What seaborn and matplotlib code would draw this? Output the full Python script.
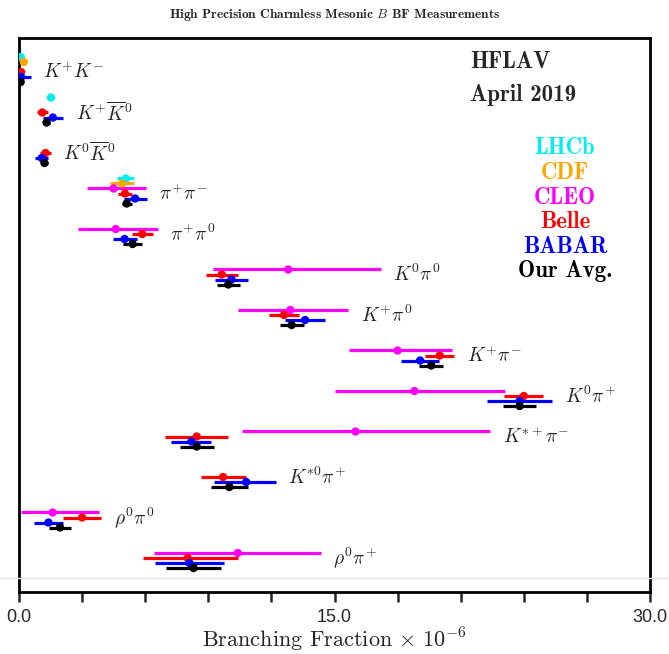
import matplotlib
matplotlib.use('Agg')
import matplotlib.pyplot as plt
import seaborn as sns
import numpy as np
import pandas as pd

# decays, top to bottom
decays = [r'$K^{+}K^{-}$', r'$K^{+}\overline{K}^{0}$', r'$K^{0}\overline{K}^{0}$',
          r'$\pi^{+}\pi^{-}$', r'$\pi^{+}\pi^{0}$', r'$K^{0}\pi^{0}$', r'$K^{+}\pi^{0}$',
          r'$K^{+}\pi^{-}$', r'$K^{0}\pi^{+}$', r'$K^{*+}\pi^{-}$', r'$K^{*0}\pi^{+}$',
          r'$\rho^{0}\pi^{0}$', r'$\rho^{0}\pi^{+}$']

nan = np.nan
# branching fractions (x 10^-6) and asymmetric errors, one entry per decay
lhcb_val = [0.08, 1.52, nan, 5.08, nan, nan, nan, nan, nan, nan, nan, nan, nan]
lhcb_lo = [0.02, 0.12, nan, 0.40, nan, nan, nan, nan, nan, nan, nan, nan, nan]
lhcb_hi = [0.02, 0.12, nan, 0.40, nan, nan, nan, nan, nan, nan, nan, nan, nan]

cdf_val = [0.23, nan, nan, 4.90, nan, nan, nan, nan, nan, nan, nan, nan, nan]
cdf_lo = [0.10, nan, nan, 0.55, nan, nan, nan, nan, nan, nan, nan, nan, nan]
cdf_hi = [0.10, nan, nan, 0.55, nan, nan, nan, nan, nan, nan, nan, nan, nan]

cleo_val = [nan, nan, nan, 4.50, 4.60, 12.8, 12.9, 18.0, 18.8, 16.0, nan, 1.60, 10.4]
cleo_lo = [nan, nan, nan, 1.28, 1.80, 3.60, 2.50, 2.30, 3.80, 5.40, nan, 1.52, 4.00]
cleo_hi = [nan, nan, nan, 1.54, 2.00, 4.40, 2.75, 2.60, 4.30, 6.40, nan, 2.20, 3.95]

belle_val = [0.10, 1.11, 1.26, 5.04, 5.86, 9.64, 12.6, 20.0, 24.0, 8.45, 9.70, 3.00, 8.02]
belle_lo = [0.08, 0.25, 0.24, 0.35, 0.50, 0.75, 0.70, 0.70, 0.93, 1.50, 1.07, 0.90, 2.14]
belle_hi = [0.08, 0.25, 0.24, 0.35, 0.50, 0.75, 0.70, 0.70, 0.93, 1.50, 1.07, 0.90, 2.41]

babar_val = [0.10, 1.61, 1.08, 5.52, 5.02, 10.1, 13.6, 19.07, 23.8, 8.20, 10.8, 1.40, 8.10]
babar_lo = [0.08, 0.47, 0.30, 0.55, 0.57, 0.80, 0.95, 0.90, 1.55, 0.95, 1.55, 0.70, 1.65]
babar_hi = [0.45, 0.48, 0.30, 0.55, 0.57, 0.80, 0.95, 0.90, 1.55, 0.95, 1.40, 0.70, 1.65]

avg_val = [0.08, 1.31, 1.21, 5.12, 5.40, 9.95, 12.96, 19.6, 23.8, 8.45, 10.0, 1.95, 8.30]
avg_lo = [0.015, 0.17, 0.16, 0.24, 0.45, 0.55, 0.57, 0.57, 0.80, 0.80, 0.87, 0.53, 1.30]
avg_hi = [0.015, 0.17, 0.16, 0.24, 0.45, 0.55, 0.57, 0.57, 0.80, 0.80, 0.87, 0.53, 1.30]

experiments = ['LHCb', 'CDF', 'CLEO', 'Belle', 'BABAR', 'Our Avg.']
colors = ['#00EEEE', '#FFA500', '#FF00FF', '#FF0000', '#0000FF', '#000000']

series = [(lhcb_val, lhcb_lo, lhcb_hi), (cdf_val, cdf_lo, cdf_hi),
          (cleo_val, cleo_lo, cleo_hi), (belle_val, belle_lo, belle_hi),
          (babar_val, babar_lo, babar_hi), (avg_val, avg_lo, avg_hi)]

slot = 0.1235  # vertical offset between experiments within one decay

rows = []
for k, (exp, (v, lo, hi)) in enumerate(zip(experiments, series)):
    for i in range(len(decays)):
        if not np.isnan(v[i]):
            rows.append(dict(exp=exp, y=i + k * slot, val=v[i], lo=lo[i], hi=hi[i]))
df = pd.DataFrame(rows)

sns.set_style('white')
plt.rcParams['font.family'] = ['DejaVu Sans']
plt.rcParams['mathtext.fontset'] = 'cm'

fig = plt.figure(figsize=(6.69, 6.54), dpi=100)
ax = fig.add_axes([0.0284, 0.0948, 0.9432, 1 - 38 / 654 - 0.0948])

for exp, col in zip(experiments, colors):
    d = df[df['exp'] == exp]
    ax.errorbar(d['val'], d['y'], xerr=[d['lo'], d['hi']], fmt='none',
                ecolor=col, elinewidth=2.3, capsize=0, zorder=2)
sns.scatterplot(data=df, x='val', y='y', hue='exp', palette=dict(zip(experiments, colors)),
                s=36, edgecolor='none', legend=False, ax=ax, zorder=3)

# decay labels to the right of each group
for i, lab in enumerate(decays):
    d = df[(df['y'] >= i) & (df['y'] < i + 1)]
    xr = (d['val'] + d['hi']).max() + 0.6
    ax.text(xr, i + 3 * slot, lab, fontsize=14, ha='left', va='center')

ax.set_xlim(0, 30)
ax.set_ylim(13.21, -0.469)
ax.set_yticks([])
ax.set_xticks(np.arange(0, 30.1, 3))
ax.set_xticklabels(['0.0', '', '', '', '', '15.0', '', '', '', '', '30.0'],
                   fontfamily='Liberation Sans', fontsize=13)
ax.tick_params(axis='x', direction='out', length=7, width=1.8, bottom=True, pad=5)
for sp in ax.spines.values():
    sp.set_visible(True)
    sp.set_color('black')
    sp.set_linewidth(2)
ax.set_xlabel(r'Branching Fraction $\times\ 10^{-6}$', fontfamily='cmr10', fontsize=16, labelpad=0)
ax.set_ylabel('')

# faint separator line above the axis, as in the reference
fig.add_artist(plt.Line2D([0, 1], [1 - 578 / 654] * 2, color='#E6E6E6', lw=1,
                          transform=fig.transFigure, zorder=1))

fig.text(0.5, 0.977, r'High Precision Charmless Mesonic $B$ BF Measurements',
         fontfamily='cmb10', fontsize=9.6, ha='center', va='center')

ax.text(470 / 669, 1 - 62 / 654, 'HFLAV', transform=fig.transFigure,
        fontfamily='cmb10', fontsize=16.5, ha='left', va='center')
ax.text(470 / 669, 1 - 95 / 654, 'April 2019', transform=fig.transFigure,
        fontfamily='cmb10', fontsize=16.5, ha='left', va='center')
leg_y = [148, 173, 198, 222, 247, 271]
for exp, col, yy in zip(experiments, colors, leg_y):
    fig.text(565 / 669, 1 - yy / 654, exp, color=col, fontfamily='cmb10',
             fontsize=16.5, ha='center', va='center')

fig.savefig('out.png', dpi=100)
